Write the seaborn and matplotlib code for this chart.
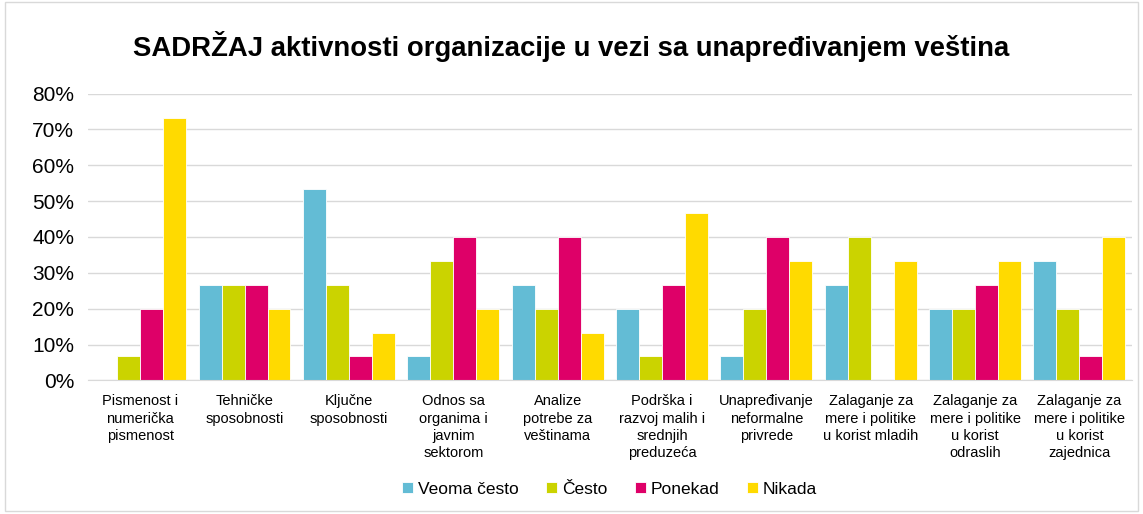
import numpy as np
import pandas as pd
import seaborn as sns
import matplotlib.pyplot as plt
from matplotlib.patches import Rectangle
from matplotlib.ticker import PercentFormatter

# Data ............................................................................................
categories = [
    "Pismenost i\nnumerička\npismenost",
    "Tehničke\nsposobnosti",
    "Ključne\nsposobnosti",
    "Odnos sa\norganima i\njavnim\nsektorom",
    "Analize\npotrebe za\nveštinama",
    "Podrška i\nrazvoj malih i\nsrednjih\npreduzeća",
    "Unapređivanje\nneformalne\nprivrede",
    "Zalaganje za\nmere i politike\nu korist mladih",
    "Zalaganje za\nmere i politike\nu korist\nodraslih",
    "Zalaganje za\nmere i politike\nu korist\nzajednica",
]
series = ["Veoma često", "Često", "Ponekad", "Nikada"]
veoma_cesto = [0.0, 26.7, 53.3, 6.7, 26.7, 20.0, 6.7, 26.7, 20.0, 33.3]
cesto = [6.7, 26.7, 26.7, 33.3, 20.0, 6.7, 20.0, 40.0, 20.0, 20.0]
ponekad = [20.0, 26.7, 6.7, 40.0, 40.0, 26.7, 40.0, 0.0, 26.7, 6.7]
nikada = [73.3, 20.0, 13.3, 20.0, 13.3, 46.7, 33.3, 33.3, 33.3, 40.0]
colors = ["#63BCD5", "#CBD300", "#DE0068", "#FFDA00"]

rows = []
for name, vals in zip(series, [veoma_cesto, cesto, ponekad, nikada]):
    for cat, v in zip(categories, vals):
        rows.append({"kategorija": cat, "serija": name, "vrednost": v})
df = pd.DataFrame(rows)

# Plot ............................................................................................
sns.set_style("white")
plt.rcParams["font.family"] = ["Liberation Sans", "DejaVu Sans"]
plt.rcParams["text.color"] = "black"
plt.rcParams["xtick.color"] = "black"
plt.rcParams["ytick.color"] = "black"

fig, ax = plt.subplots(figsize = (11.43, 5.14), dpi = 100)
fig.subplots_adjust(left = 0.077, right = 0.99, top = 0.818, bottom = 0.26)

sns.barplot(data = df, x = "kategorija", y = "vrednost", hue = "serija",
            palette = colors, saturation = 1, width = 0.88, gap = 0,
            edgecolor = "white", linewidth = 0.6, ax = ax)

ax.set_ylim(0, 80)
ax.set_yticks(np.arange(0, 81, 10))
ax.yaxis.set_major_formatter(PercentFormatter(decimals = 0))
ax.grid(axis = "y", color = "#D9D9D9", linewidth = 1)
ax.set_axisbelow(True)
for side in ["top", "right", "left"]:
    ax.spines[side].set_visible(False)
ax.spines["bottom"].set_color("#D9D9D9")
ax.tick_params(axis = "y", labelsize = 15, length = 0, pad = 10)
ax.tick_params(axis = "x", labelsize = 10.5, length = 0, pad = 10)
for lbl in ax.get_xticklabels():
    lbl.set_linespacing(1.3)
ax.set_xlabel("")
ax.set_ylabel("")

fig.suptitle("SADRŽAJ aktivnosti organizacije u vezi sa unapređivanjem veština",
             fontsize = 19.8, fontweight = "bold", y = 0.94)

ax.legend(loc = "upper center", bbox_to_anchor = (0.5, -0.3), ncol = 4, frameon = False,
          fontsize = 12.5, handlelength = 0.6, handleheight = 0.6, handletextpad = 0.3,
          columnspacing = 1.6)

fig.patches.append(Rectangle((0.004, 0.006), 0.992, 0.99, transform = fig.transFigure,
                             fill = False, edgecolor = "#D9D9D9", linewidth = 1))

plt.savefig("out.png", dpi = 100)
